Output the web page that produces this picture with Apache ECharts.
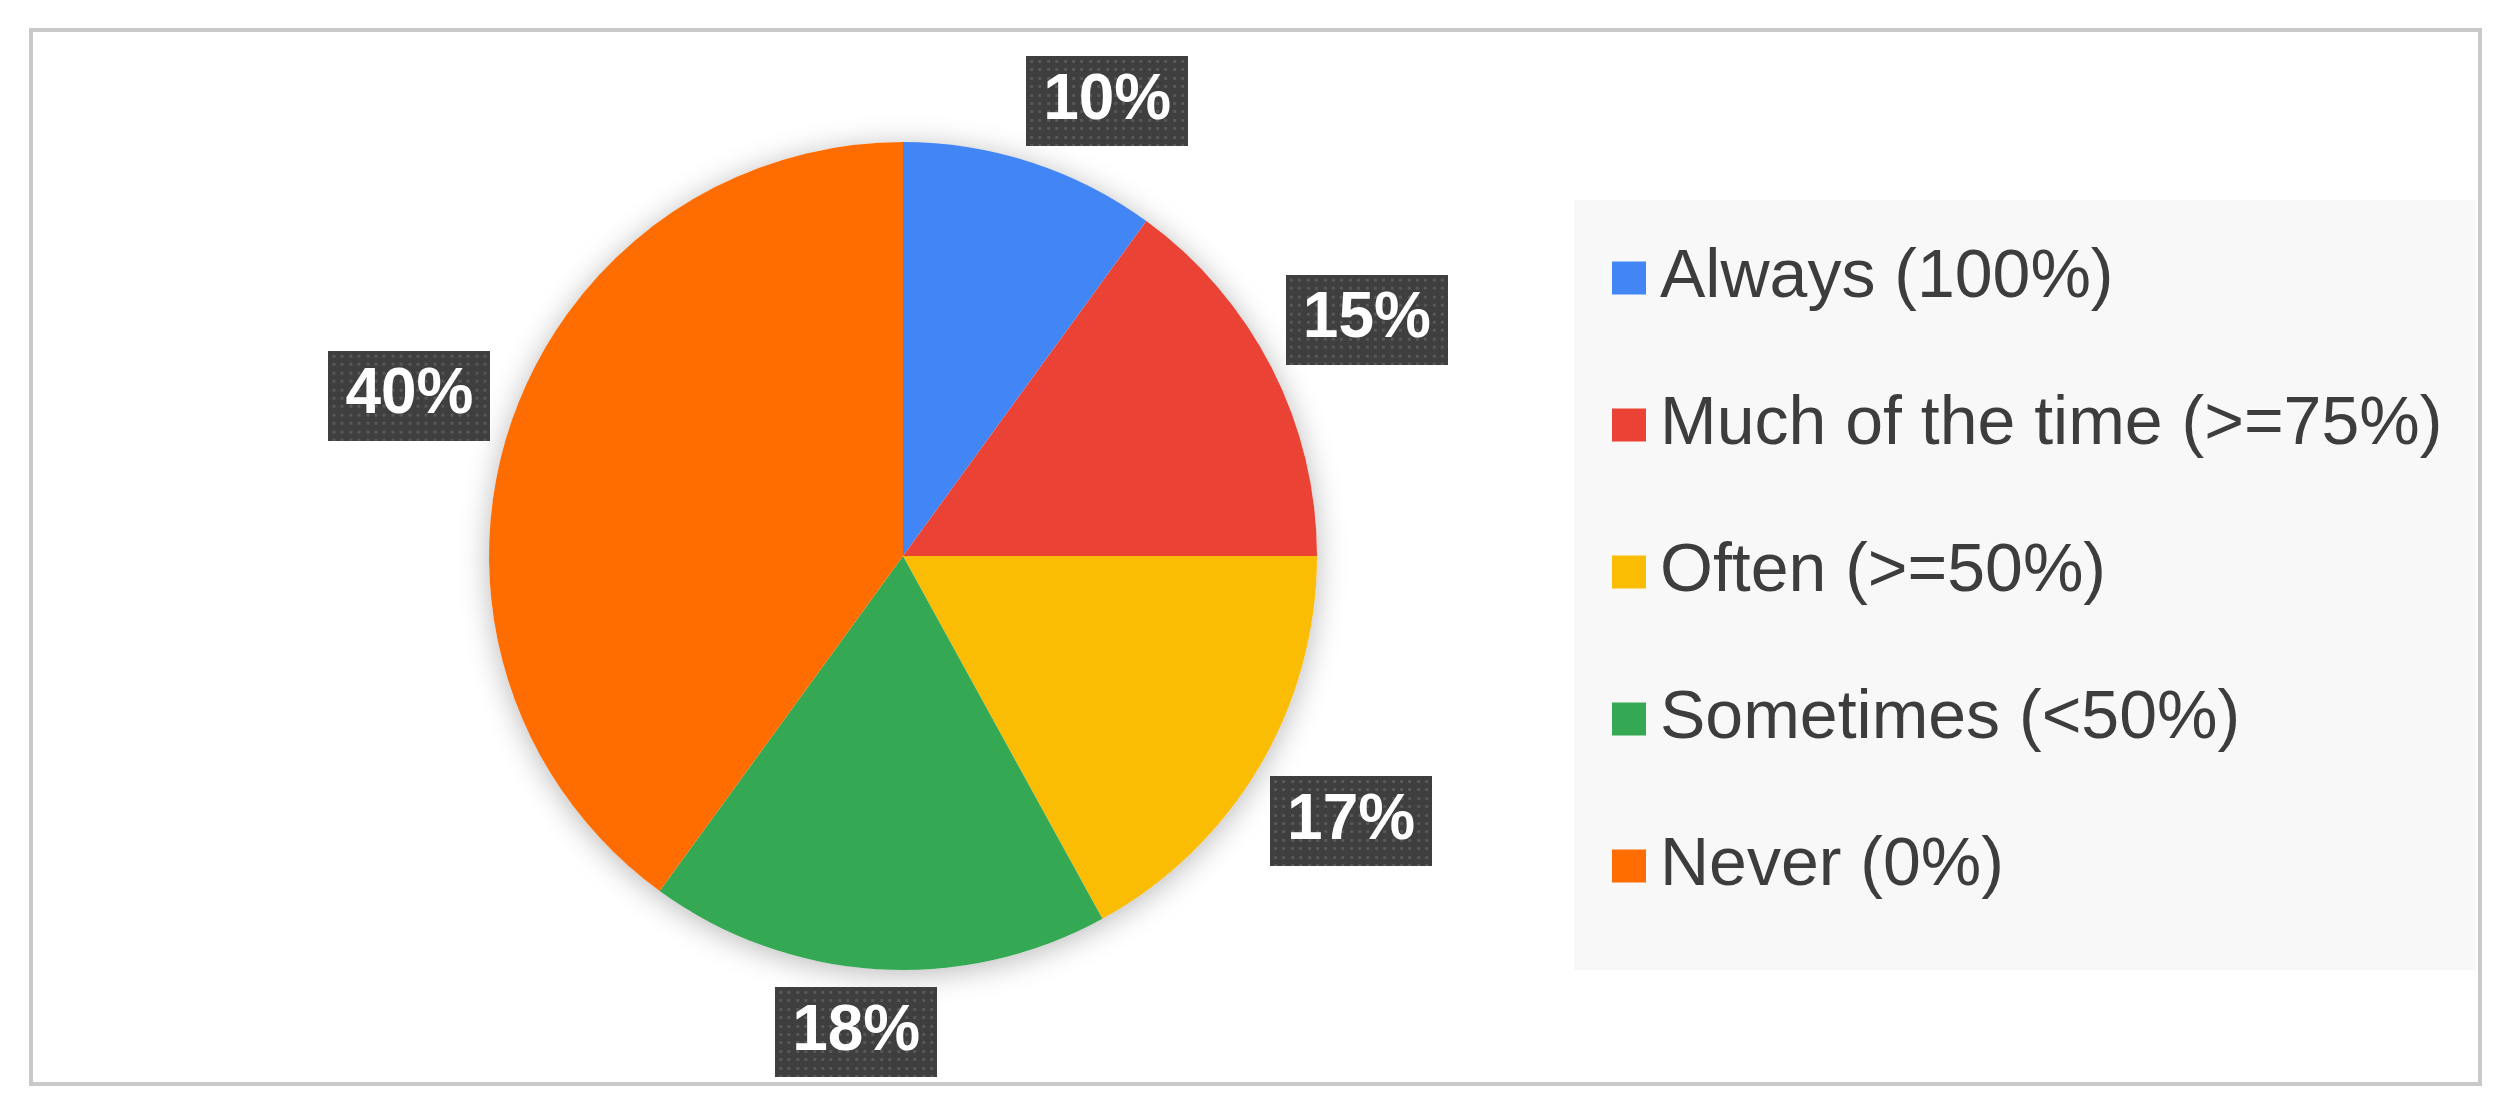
<!DOCTYPE html>
<html>
<head>
<meta charset="utf-8">
<title>Pie</title>
<script src="https://cdn.jsdelivr.net/npm/echarts@6/dist/echarts.min.js"></script>
<style>
  html, body { margin: 0; padding: 0; background: #fff; }
  #main { width: 2506px; height: 1110px; }
</style>
</head>
<body>
<div id="main"></div>
<script>
const categories = ['Always (100%)', 'Much of the time (>=75%)', 'Often (>=50%)', 'Sometimes (<50%)', 'Never (0%)'];
const percents = [10, 15, 17, 18, 40];
const sliceColors = ['#4285f4', '#ea4335', '#fbbc04', '#34a853', '#ff6d01'];

const pieCenter = [903, 556];
const pieRadius = 414;
const labelRing = 428;   // label boxes stop this far from the centre
const labelTop = 56;
const labelBottom = 1077;

let chartDom = document.getElementById('main');
let myChart = echarts.init(chartDom);

// dark dotted box behind the percent labels
function dotPattern(w, h) {
  const c = document.createElement('canvas');
  c.width = w;
  c.height = h;
  const ctx = c.getContext('2d');
  ctx.fillStyle = '#3f3f3f';
  ctx.fillRect(0, 0, w, h);
  ctx.fillStyle = '#585858';
  for (let y = 4; y < h; y += 8.4) {
    for (let x = 4; x < w; x += 8.4) {
      ctx.fillRect(Math.round(x), Math.round(y), 3, 3);
    }
  }
  return c;
}

// put each label just outside the pie along the slice middle,
// slide it along the circle when it would leave the frame
function placeLabel(params) {
  const data = myChart.getModel().getSeriesByIndex(1).getData();
  const lay = data.getItemLayout(params.dataIndex);
  const mid = (lay.startAngle + lay.endAngle) / 2;
  const ux = Math.cos(mid), uy = Math.sin(mid);
  const a = params.labelRect.width / 2, b = params.labelRect.height / 2;
  const dist = labelRing + a * Math.abs(ux) + b * Math.abs(uy);
  let x = lay.cx + dist * ux;
  let y = lay.cy + dist * uy;
  const tx = -uy, ty = ux;
  let dy = 0;
  if (y - b < labelTop) dy = labelTop + b - y;
  if (y + b > labelBottom) dy = labelBottom - b - y;
  if (dy !== 0 && Math.abs(ty) > 0.05) {
    const s = dy / ty;
    x += s * tx;
    y += s * ty;
  }
  return {x: x, y: y, align: 'center', verticalAlign: 'middle'};
}

let pieData = categories.map((name, i) => ({
  name: name,
  value: percents[i],
  itemStyle: {color: sliceColors[i]}
}));

let option = {
  animation: false,
  backgroundColor: '#fff',
  graphic: [
    {
      type: 'rect', z: -10,
      shape: {x: 31, y: 30, width: 2449, height: 1054},
      style: {fill: 'none', stroke: '#c9c9c9', lineWidth: 4}
    },
    {
      type: 'rect', z: -9,
      shape: {x: 1574, y: 200, width: 902, height: 770},
      style: {fill: '#f8f8f8'}
    }
  ],
  legend: {
    orient: 'vertical',
    left: 1612,
    top: 244,
    padding: 0,
    itemWidth: 34,
    itemHeight: 33,
    itemGap: 79,
    icon: 'rect',
    selectedMode: false,
    data: categories,
    textStyle: {
      fontFamily: 'Liberation Sans',
      fontSize: 68,
      color: '#3d3d3d',
      padding: [0, 0, 0, 9]
    }
  },
  series: [
    {
      // soft shadow under the pie
      type: 'pie',
      silent: true,
      center: pieCenter,
      radius: pieRadius,
      z: 1,
      label: {show: false},
      labelLine: {show: false},
      data: [{value: 1, name: 'shadow'}],
      itemStyle: {color: '#fff', shadowBlur: 30, shadowColor: 'rgba(0,0,0,0.28)', shadowOffsetY: 4}
    },
    {
      type: 'pie',
      center: pieCenter,
      radius: pieRadius,
      startAngle: 90,
      clockwise: true,
      avoidLabelOverlap: false,
      z: 2,
      emphasis: {scale: false},
      data: pieData,
      labelLine: {show: false},
      label: {
        show: true,
        position: 'inside',
        formatter: '{c}%',
        color: '#fff',
        fontFamily: 'Liberation Sans',
        fontWeight: 'bold',
        fontSize: 64,
        lineHeight: 66,
        width: 132,
        height: 66,
        overflow: 'none',
        align: 'center',
        verticalAlign: 'middle',
        textBorderWidth: 0,
        padding: [12, 15, 12, 15],
        backgroundColor: {image: dotPattern(162, 90)},
        shadowColor: 'rgba(0,0,0,0.45)',
        shadowBlur: 8,
        shadowOffsetX: 6,
        shadowOffsetY: 7
      },
      labelLayout: placeLabel
    }
  ]
};

option && myChart.setOption(option);
</script>
</body>
</html>
